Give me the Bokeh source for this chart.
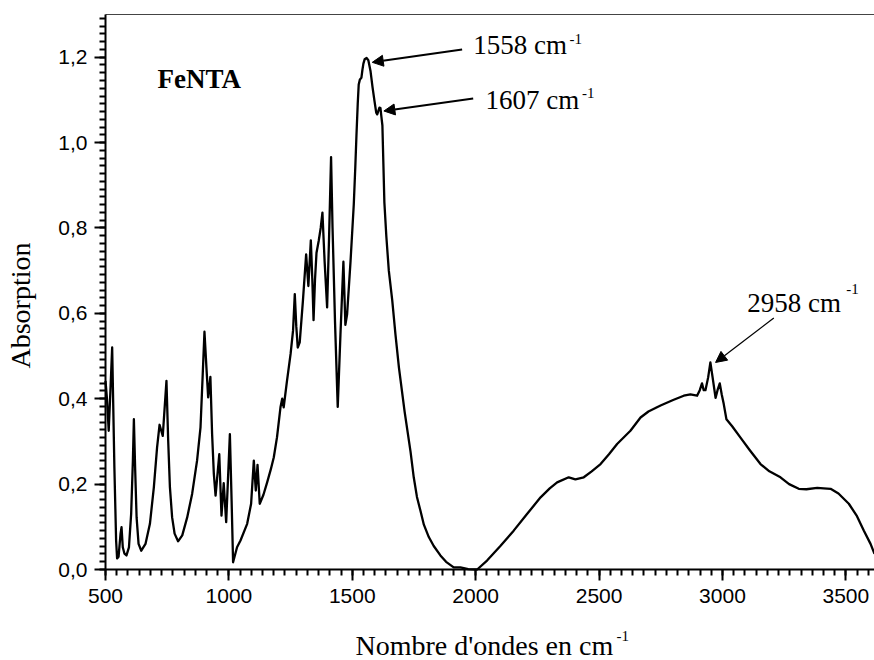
import math
from bokeh.plotting import figure
from bokeh.models import FixedTicker, CustomJSTickFormatter, Arrow, NormalHead, Range1d
from bokeh.core.properties import value
from bokeh.embed import file_html
from bokeh.resources import INLINE

# ---- data ----
wavenumber = [500, 506, 513, 520, 527, 536, 543, 547, 553, 561, 565, 570, 577, 585, 595,
              604, 611, 615, 620, 626, 634, 645, 662, 680, 696, 709, 719, 732, 747, 754,
              761, 770, 780, 794, 811, 831, 851, 871, 885, 894, 901, 909, 916, 925, 932,
              939, 946, 961, 970, 979, 989, 1004, 1011, 1017, 1033, 1047, 1074, 1090,
              1101, 1109, 1116, 1125, 1140, 1155, 1170, 1182, 1195, 1209, 1216, 1222,
              1235, 1250, 1260, 1267, 1273, 1279, 1287, 1300, 1313, 1322, 1332, 1338,
              1343, 1349, 1355, 1364, 1372, 1379, 1388, 1398, 1406, 1414, 1420, 1430,
              1441, 1452, 1464, 1472, 1479, 1493, 1506, 1512, 1517, 1522, 1526, 1531,
              1537, 1541, 1545, 1550, 1558, 1565, 1574, 1582, 1590, 1597, 1601, 1606,
              1610, 1614, 1618, 1622, 1626, 1630, 1638, 1648, 1662, 1675, 1689, 1712,
              1736, 1749, 1762, 1776, 1790, 1810, 1830, 1857, 1880, 1911, 1938, 1970,
              2006, 2046, 2100, 2154, 2208, 2263, 2300, 2330, 2377, 2404, 2438, 2470,
              2506, 2540, 2573, 2627, 2668, 2700, 2749, 2800, 2843, 2870, 2897, 2908,
              2917, 2924, 2931, 2942, 2951, 2960, 2972, 2980, 2989, 2997, 3005, 3016,
              3040, 3073, 3110, 3154, 3190, 3235, 3270, 3309, 3340, 3384, 3410, 3438,
              3470, 3512, 3545, 3573, 3600, 3616]
absorbance = [0.442, 0.400, 0.325, 0.420, 0.520, 0.239, 0.068, 0.026, 0.030, 0.084,
              0.099, 0.052, 0.037, 0.033, 0.052, 0.131, 0.255, 0.352, 0.239, 0.122,
              0.060, 0.044, 0.060, 0.107, 0.193, 0.286, 0.339, 0.313, 0.442, 0.302,
              0.193, 0.122, 0.084, 0.066, 0.080, 0.122, 0.177, 0.255, 0.333, 0.458,
              0.557, 0.473, 0.403, 0.451, 0.317, 0.224, 0.173, 0.270, 0.126, 0.202,
              0.111, 0.317, 0.161, 0.017, 0.052, 0.068, 0.107, 0.154, 0.255, 0.185,
              0.245, 0.154, 0.175, 0.204, 0.235, 0.263, 0.310, 0.380, 0.400, 0.380,
              0.440, 0.505, 0.560, 0.645, 0.570, 0.520, 0.532, 0.630, 0.738, 0.664,
              0.771, 0.680, 0.584, 0.680, 0.742, 0.770, 0.800, 0.836, 0.720, 0.614,
              0.780, 0.966, 0.800, 0.580, 0.381, 0.550, 0.721, 0.573, 0.598, 0.723,
              0.855, 0.940, 1.019, 1.090, 1.136, 1.148, 1.152, 1.170, 1.185, 1.195,
              1.198, 1.193, 1.167, 1.130, 1.097, 1.070, 1.066, 1.075, 1.082, 1.081,
              1.060, 1.040, 0.950, 0.860, 0.780, 0.700, 0.630, 0.550, 0.473, 0.370,
              0.276, 0.216, 0.170, 0.138, 0.105, 0.076, 0.055, 0.033, 0.018, 0.005,
              0.005, 0.001, 0.000, 0.021, 0.055, 0.091, 0.130, 0.169, 0.190, 0.204,
              0.216, 0.211, 0.216, 0.230, 0.247, 0.270, 0.294, 0.325, 0.356, 0.370,
              0.384, 0.397, 0.407, 0.410, 0.407, 0.420, 0.436, 0.420, 0.420, 0.450,
              0.485, 0.450, 0.402, 0.420, 0.436, 0.410, 0.388, 0.352, 0.335, 0.309,
              0.280, 0.247, 0.230, 0.216, 0.200, 0.189, 0.188, 0.191, 0.190, 0.189,
              0.178, 0.154, 0.125, 0.091, 0.060, 0.037]

x_major_ticks = [500, 1000, 1500, 2000, 2500, 3000, 3500]
y_major_ticks = [0.0, 0.2, 0.4, 0.6, 0.8, 1.0, 1.2]
minor_per_interval = 11   # ten minor ticks between two major ticks

x_title = "Nombre d'ondes en cm"
y_title = "Absorption"

sample_name = "FeNTA"
sample_x = 711
sample_y = 1.150

peak_texts = ["1558 cm", "1607 cm", "2958 cm"]
peak_text_x = [1990, 2040, 3100]
peak_text_y = [1.229, 1.099, 0.624]
sup_text = ["-1", "-1", "-1"]
sup_x = [2380, 2431, 3502]
sup_y = [1.243, 1.117, 0.657]
arrow_x0 = [1945, 1990, 3208]
arrow_y0 = [1.218, 1.103, 0.589]
arrow_x1 = [1581, 1628, 2972]
arrow_y1 = [1.188, 1.074, 0.485]
arrow_widths = [2, 2, 1.3]

X_START, X_END = 500, 3616
Y_START, Y_END = 0.0, 1.3

SERIF = "Liberation Serif"
SANS = "Liberation Sans"

# ---- layout (pixels on the 874x660 canvas) ----
W, H = 874, 660
AX_LEFT, AX_RIGHT, AX_TOP, AX_BOTTOM = 105, 874, 14, 569
kx = (AX_RIGHT - AX_LEFT) / (X_END - X_START)      # px per data unit
ky = (AX_BOTTOM - AX_TOP) / (Y_END - Y_START)
x_lo = X_START - AX_LEFT / kx
x_hi = X_END + (W - AX_RIGHT) / kx
y_lo = Y_START - (H - AX_BOTTOM) / ky
y_hi = Y_END + AX_TOP / ky


def px_to_x(px):
    return X_START + (px - AX_LEFT) / kx


def px_to_y(py):
    return Y_START + (AX_BOTTOM - py) / ky


def minor_list(start, end, step):
    out = []
    k = 0
    while start + k * step <= end + 1e-9:
        out.append(round(start + k * step, 6))
        k += 1
    return out


x_minor = minor_list(X_START, X_END, (x_major_ticks[1] - x_major_ticks[0]) / minor_per_interval)
y_minor = minor_list(Y_START, Y_END, (y_major_ticks[1] - y_major_ticks[0]) / minor_per_interval)

p = figure(width=W, height=H, x_range=Range1d(x_lo, x_hi), y_range=Range1d(y_lo, y_hi),
           output_backend="svg", toolbar_location=None, title=None,
           min_border=0, min_border_left=0, min_border_right=0, min_border_top=0,
           min_border_bottom=0)
p.grid.visible = False
p.outline_line_color = None
p.background_fill_color = "white"
p.border_fill_color = "white"

xa = p.below[0]
ya = p.left[0]
xa.fixed_location = Y_START
ya.fixed_location = X_START
xa.bounds = (X_START, X_END)
ya.bounds = (Y_START, Y_END)
xa.ticker = FixedTicker(ticks=x_major_ticks, minor_ticks=x_minor)
ya.ticker = FixedTicker(ticks=y_major_ticks, minor_ticks=y_minor)
ya.formatter = CustomJSTickFormatter(code="return tick.toFixed(1).replace('.', ',');")

for ax in (xa, ya):
    ax.axis_line_color = "black"
    ax.axis_line_width = 2
    ax.major_tick_line_color = "black"
    ax.major_tick_line_width = 2
    ax.minor_tick_line_color = "black"
    ax.minor_tick_line_width = 2
    ax.major_tick_out = 11
    ax.major_tick_in = 0
    ax.minor_tick_out = 6
    ax.minor_tick_in = 0
    ax.major_label_text_font = SANS
    ax.major_label_text_font_size = "21px"
    ax.major_label_text_color = "black"

xa.major_label_standoff = 8
ya.major_label_standoff = 7

# thin top frame line
p.segment(x0=[X_START], y0=[Y_END], x1=[X_END], y1=[Y_END], line_color="#444444",
          line_width=1)

p.line(wavenumber, absorbance, line_color="black", line_width=2.3, line_join="round")

# axis titles
p.text(x=[px_to_x(355)], y=[px_to_y(645)], text=[x_title], text_font=value(SERIF),
       text_font_size="28px", text_color="black", text_baseline="alphabetic",
       text_align="left")
p.text(x=[px_to_x(616)], y=[px_to_y(635)], text=["-1"], text_font=value(SERIF),
       text_font_size="15px", text_color="black", text_baseline="alphabetic",
       text_align="left")
p.text(x=[px_to_x(20)], y=[px_to_y(305)], text=[y_title], text_font=value(SERIF),
       text_font_size="28px", text_color="black", text_baseline="alphabetic",
       text_align="center", angle=math.pi / 2)

p.text(x=[sample_x], y=[sample_y], text=[sample_name], text_font=value(SERIF),
       text_font_style="bold", text_font_size="27px", text_color="black",
       text_baseline="alphabetic", text_align="left")

p.text(x=peak_text_x, y=peak_text_y, text=peak_texts, text_font=value(SERIF),
       text_font_size="27px", text_color="black", text_baseline="alphabetic",
       text_align="left")
p.text(x=sup_x, y=sup_y, text=sup_text, text_font=value(SERIF),
       text_font_size="15px", text_color="black", text_baseline="alphabetic",
       text_align="left")

for i in range(len(arrow_x0)):
    p.add_layout(Arrow(end=NormalHead(size=11, fill_color="black", line_color="black",
                                      line_width=1),
                       x_start=arrow_x0[i], y_start=arrow_y0[i],
                       x_end=arrow_x1[i], y_end=arrow_y1[i],
                       line_color="black", line_width=arrow_widths[i]))

open("out.html", "w").write(file_html(p, INLINE))
